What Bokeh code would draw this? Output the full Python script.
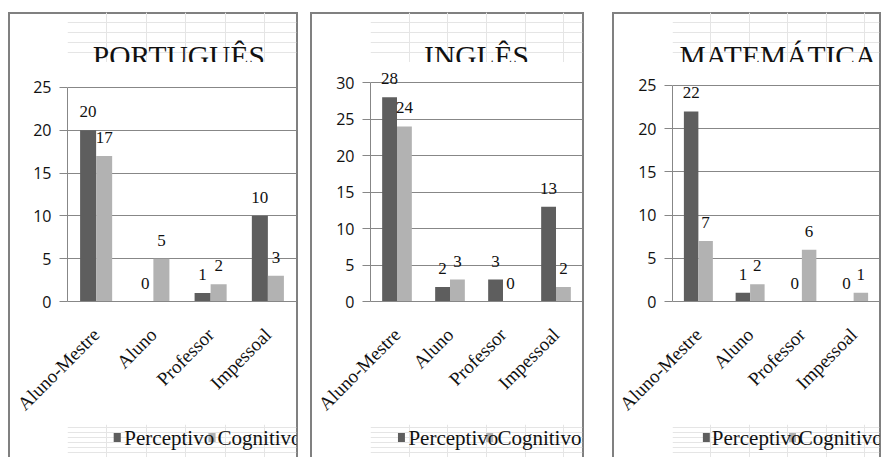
from math import pi
from bokeh.plotting import figure
from bokeh.models import ColumnDataSource, LabelSet, FixedTicker, Spacer
from bokeh.layouts import row, column
from bokeh.transform import dodge
from bokeh.core.properties import value
from bokeh.embed import file_html
from bokeh.resources import INLINE

categorias = ["Aluno-Mestre", "Aluno", "Professor", "Impessoal"]
series = ["Perceptivo", "Cognitivo"]

titulos = ["PORTUGUÊS", "INGLÊS", "MATEMÁTICA"]
portugues_perceptivo = [20, 0, 1, 10]
portugues_cognitivo = [17, 5, 2, 3]
ingles_perceptivo = [28, 2, 3, 13]
ingles_cognitivo = [24, 3, 0, 2]
matematica_perceptivo = [22, 1, 0, 0]
matematica_cognitivo = [7, 2, 6, 1]

portugues_ticks = [0, 5, 10, 15, 20, 25]
ingles_ticks = [0, 5, 10, 15, 20, 25, 30]
matematica_ticks = [0, 5, 10, 15, 20, 25]

DARK = "#5e5e5e"
LIGHT = "#b2b2b2"
GRID = "#878787"
SERIF = "Liberation Serif"
SANS = "Open Sans"
EDGE = "#808080"
TOP_BORDER = {"box-shadow": f"inset 2px 2px 0 {EDGE}, inset -2px 0 0 {EDGE}"}
SIDE_BORDER = {"box-shadow": f"inset 2px 0 0 {EDGE}, inset -2px 0 0 {EDGE}"}


def caixa(width, height, styles):
    f = figure(width=width, height=height, x_range=(0, width), y_range=(0, height),
               output_backend="svg", toolbar_location=None, tools="",
               x_axis_location=None, y_axis_location=None,
               min_border=0)
    f.outline_line_color = None
    f.background_fill_color = None
    f.border_fill_color = None
    f.styles = dict(styles)
    return f


def painel(titulo, perc, cogn, ticks, width, ml, mt, mb, title_x, leg):
    # title strip
    t = caixa(width, 50, TOP_BORDER)
    t.text(x=[title_x], y=[7], text=[titulo], text_font=value(SERIF),
           text_font_size="29.5px", text_align="center", text_baseline="alphabetic",
           text_color="#111111")

    # chart
    src = ColumnDataSource(dict(cat=categorias, perc=perc, cogn=cogn,
                                perc_lbl=[str(v) for v in perc],
                                cogn_lbl=[str(v) for v in cogn]))
    p = figure(x_range=categorias, y_range=(ticks[0], ticks[-1] * 1.06),
               width=width, height=362, output_backend="svg",
               toolbar_location=None, tools="",
               min_border_left=ml, min_border_right=2,
               min_border_top=mt, min_border_bottom=mb)
    p.outline_line_color = None
    p.background_fill_color = None
    p.border_fill_color = None
    p.styles = dict(SIDE_BORDER)

    p.vbar(x=dodge("cat", -0.14, range=p.x_range), top="perc", width=0.28,
           source=src, fill_color=DARK, line_color=None)
    p.vbar(x=dodge("cat", 0.14, range=p.x_range), top="cogn", width=0.28,
           source=src, fill_color=LIGHT, line_color=None)

    for col, off in (("perc", -0.14), ("cogn", 0.14)):
        p.add_layout(LabelSet(x=dodge("cat", off, range=p.x_range), y=col,
                              text=col + "_lbl", source=src,
                              text_align="center", text_baseline="alphabetic",
                              y_offset=13, text_font=SANS, text_font_size="17px",
                              text_color="#111111"))

    p.xgrid.grid_line_color = None
    p.ygrid.grid_line_color = GRID

    p.yaxis.ticker = FixedTicker(ticks=ticks)
    p.yaxis.bounds = (ticks[0], ticks[-1])
    p.yaxis.axis_line_color = GRID
    p.yaxis.major_tick_line_color = GRID
    p.yaxis.major_tick_out = 8
    p.yaxis.major_tick_in = 0
    p.yaxis.minor_tick_line_color = None
    p.yaxis.major_label_standoff = 8
    p.yaxis.major_label_text_font = SANS
    p.yaxis.major_label_text_font_size = "16px"
    p.yaxis.major_label_text_color = "#111111"

    p.xaxis.axis_line_color = GRID
    p.xaxis.major_tick_line_color = None
    p.xaxis.minor_tick_line_color = None
    p.xaxis.major_label_orientation = pi / 4
    p.xaxis.major_label_standoff = 24
    p.xaxis.major_label_text_font = SERIF
    p.xaxis.major_label_text_font_size = "19px"
    p.xaxis.major_label_text_color = "#111111"

    # legend strip
    sq1, t1, sq2, t2 = leg
    lg = caixa(width, 33, SIDE_BORDER)
    lg.rect(x=[sq1, sq2], y=[20, 20], width=9, height=9,
            fill_color=[DARK, LIGHT], line_color=None)
    lg.text(x=[t1, t2], y=[20, 20], text=series, text_font=value(SERIF),
            text_font_size="21px", text_align="left", text_baseline="middle",
            text_color="#111111")

    return column(Spacer(height=12), t, p, lg)


c1 = painel(titulos[0], portugues_perceptivo, portugues_cognitivo, portugues_ticks,
            290, 59, 12, 123, 141, (63, 72, 183, 190))
c2 = painel(titulos[1], ingles_perceptivo, ingles_cognitivo, ingles_ticks,
            274, 60, 7, 119, 137, (40, 49, 154, 164))
c3 = painel(titulos[2], matematica_perceptivo, matematica_cognitivo, matematica_ticks,
            269, 60, 10, 114, 137, (44, 51, 156, 164))

layout = row(Spacer(width=8), c1, Spacer(width=12), c2, Spacer(width=28), c3)

open("out.html", "w").write(file_html(layout, INLINE))
